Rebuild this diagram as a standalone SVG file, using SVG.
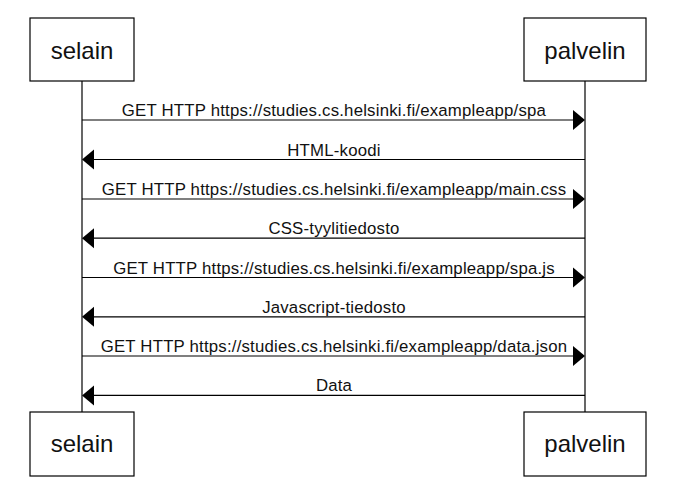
<svg xmlns="http://www.w3.org/2000/svg" width="675" height="485" viewBox="0 0 675 485">
<style>
.box{fill:#fff;stroke:#000;stroke-width:1.2}
.life{stroke:#000;stroke-width:1.2;fill:none}
.msg{stroke:#000;stroke-width:1.2;fill:none}
.head{fill:#000}
.actor{font-family:"Liberation Sans",Arial,sans-serif;font-size:24px;fill:#111;text-anchor:middle}
.lbl{font-family:"Liberation Sans",Arial,sans-serif;font-size:16.8px;letter-spacing:0.2px;fill:#111;text-anchor:middle}
</style>
<rect width="675" height="485" fill="#fff"/>
<g id="lifelines">
<line class="life" x1="82" y1="81" x2="82" y2="412"/>
<line class="life" x1="585" y1="81" x2="585" y2="412"/>
</g>
<g id="selain-top"><rect class="box" x="30" y="18" width="104" height="63"/><text class="actor" x="82" y="59">selain</text></g>
<g id="palvelin-top"><rect class="box" x="524" y="18" width="122" height="63"/><text class="actor" x="585" y="59">palvelin</text></g>
<g id="selain-bottom"><rect class="box" x="30" y="412" width="104" height="64"/><text class="actor" x="82" y="452">selain</text></g>
<g id="palvelin-bottom"><rect class="box" x="524" y="412" width="122" height="64"/><text class="actor" x="585" y="452">palvelin</text></g>
<g id="connectors">
<line class="msg" x1="82" y1="120" x2="575" y2="120"/><polygon class="head" points="585,120 573,110 573,130"/>
<text class="lbl" x="334" y="116">GET HTTP https://studies.cs.helsinki.fi/exampleapp/spa</text>
<line class="msg" x1="585" y1="159.5" x2="92" y2="159.5"/><polygon class="head" points="82,159.5 94,149.5 94,169.5"/>
<text class="lbl" x="334" y="155.5">HTML-koodi</text>
<line class="msg" x1="82" y1="199" x2="575" y2="199"/><polygon class="head" points="585,199 573,189 573,209"/>
<text class="lbl" x="334" y="195">GET HTTP https://studies.cs.helsinki.fi/exampleapp/main.css</text>
<line class="msg" x1="585" y1="238.2" x2="92" y2="238.2"/><polygon class="head" points="82,238.2 94,228.2 94,248.2"/>
<text class="lbl" x="334" y="234.2">CSS-tyylitiedosto</text>
<line class="msg" x1="82" y1="277.5" x2="575" y2="277.5"/><polygon class="head" points="585,277.5 573,267.5 573,287.5"/>
<text class="lbl" x="334" y="273.5">GET HTTP https://studies.cs.helsinki.fi/exampleapp/spa.js</text>
<line class="msg" x1="585" y1="316.8" x2="92" y2="316.8"/><polygon class="head" points="82,316.8 94,306.8 94,326.8"/>
<text class="lbl" x="334" y="312.8">Javascript-tiedosto</text>
<line class="msg" x1="82" y1="356" x2="575" y2="356"/><polygon class="head" points="585,356 573,346 573,366"/>
<text class="lbl" x="334" y="352">GET HTTP https://studies.cs.helsinki.fi/exampleapp/data.json</text>
<line class="msg" x1="585" y1="395.4" x2="92" y2="395.4"/><polygon class="head" points="82,395.4 94,385.4 94,405.4"/>
<text class="lbl" x="334" y="391.4">Data</text>
</g>
</svg>
